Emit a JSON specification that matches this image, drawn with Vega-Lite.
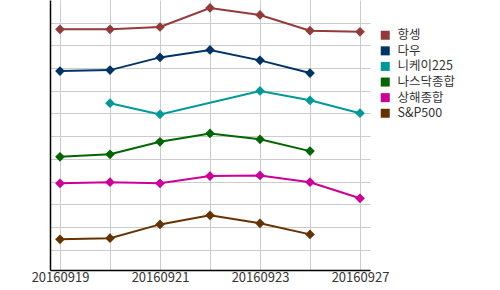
{
  "$schema": "https://vega.github.io/schema/vega-lite/v6.json",
  "autosize": "none",
  "width": 320,
  "height": 270,
  "padding": {"left": 50, "top": 0, "right": 130, "bottom": 20},
  "background": "white",
  "config": {
    "view": {"stroke": null},
    "font": "Noto Sans CJK KR"
  },
  "data": {
    "values": [
      {"date": "20160919", "index": "항셍", "value": 10.71},
      {"date": "20160920", "index": "항셍", "value": 10.71},
      {"date": "20160921", "index": "항셍", "value": 10.81},
      {"date": "20160922", "index": "항셍", "value": 11.65},
      {"date": "20160923", "index": "항셍", "value": 11.34},
      {"date": "20160926", "index": "항셍", "value": 10.65},
      {"date": "20160927", "index": "항셍", "value": 10.60},
      {"date": "20160919", "index": "다우", "value": 8.87},
      {"date": "20160920", "index": "다우", "value": 8.91},
      {"date": "20160921", "index": "다우", "value": 9.47},
      {"date": "20160922", "index": "다우", "value": 9.80},
      {"date": "20160923", "index": "다우", "value": 9.34},
      {"date": "20160926", "index": "다우", "value": 8.78},
      {"date": "20160920", "index": "니케이225", "value": 7.45},
      {"date": "20160921", "index": "니케이225", "value": 6.96},
      {"date": "20160923", "index": "니케이225", "value": 7.99},
      {"date": "20160926", "index": "니케이225", "value": 7.58},
      {"date": "20160927", "index": "니케이225", "value": 7.01},
      {"date": "20160919", "index": "나스닥종합", "value": 5.09},
      {"date": "20160920", "index": "나스닥종합", "value": 5.20},
      {"date": "20160921", "index": "나스닥종합", "value": 5.75},
      {"date": "20160922", "index": "나스닥종합", "value": 6.12},
      {"date": "20160923", "index": "나스닥종합", "value": 5.86},
      {"date": "20160926", "index": "나스닥종합", "value": 5.34},
      {"date": "20160919", "index": "상해종합", "value": 3.92},
      {"date": "20160920", "index": "상해종합", "value": 3.97},
      {"date": "20160921", "index": "상해종합", "value": 3.92},
      {"date": "20160922", "index": "상해종합", "value": 4.24},
      {"date": "20160923", "index": "상해종합", "value": 4.27},
      {"date": "20160926", "index": "상해종합", "value": 3.97},
      {"date": "20160927", "index": "상해종합", "value": 3.26},
      {"date": "20160919", "index": "S&P500", "value": 1.45},
      {"date": "20160920", "index": "S&P500", "value": 1.50},
      {"date": "20160921", "index": "S&P500", "value": 2.11},
      {"date": "20160922", "index": "S&P500", "value": 2.51},
      {"date": "20160923", "index": "S&P500", "value": 2.16},
      {"date": "20160926", "index": "S&P500", "value": 1.67}
    ]
  },
  "encoding": {
    "x": {
      "field": "date",
      "type": "ordinal",
      "scale": {
        "type": "point",
        "domain": ["20160919", "20160920", "20160921", "20160922", "20160923", "20160926", "20160927"],
        "padding": 0.2
      },
      "axis": {
        "title": null,
        "labelAngle": 0,
        "ticks": false,
        "grid": true,
        "gridColor": "#cccccc",
        "gridWidth": 1,
        "domainColor": "#000000",
        "domainWidth": 1.5,
        "labelFontSize": 13,
        "labelColor": "#333333",
        "labelPadding": 1,
        "labelFont": "Noto Sans CJK KR",
        "labelExpr": "indexof(['20160919','20160921','20160923','20160927'], datum.label) >= 0 ? datum.label : ''"
      }
    },
    "y": {
      "field": "value",
      "type": "quantitative",
      "scale": {"domain": [0.1, 12], "nice": false, "zero": false},
      "axis": {
        "title": null,
        "labels": false,
        "ticks": false,
        "grid": true,
        "gridColor": "#cccccc",
        "values": [1, 2, 3, 4, 5, 6, 7, 8, 9, 10, 11],
        "domainColor": "#000000",
        "domainWidth": 1.5
      }
    },
    "color": {
      "field": "index",
      "type": "nominal",
      "scale": {
        "domain": ["항셍", "다우", "니케이225", "나스닥종합", "상해종합", "S&P500"],
        "range": ["#933a3a", "#003366", "#009999", "#006600", "#cc0099", "#663300"]
      },
      "legend": {
        "title": null,
        "orient": "none",
        "legendX": 329,
        "legendY": 29,
        "symbolType": "square",
        "symbolSize": 81,
        "symbolStrokeWidth": 0,
        "labelFontSize": 12.5,
        "labelColor": "#333333",
        "labelFont": "Noto Sans CJK KR",
        "labelOffset": 6,
        "rowPadding": 2.6,
        "padding": 0
      }
    }
  },
  "layer": [
    {
      "mark": {"type": "line", "strokeWidth": 2}
    },
    {
      "mark": {"type": "point", "shape": "diamond", "filled": true, "size": 95, "opacity": 1}
    }
  ]
}
